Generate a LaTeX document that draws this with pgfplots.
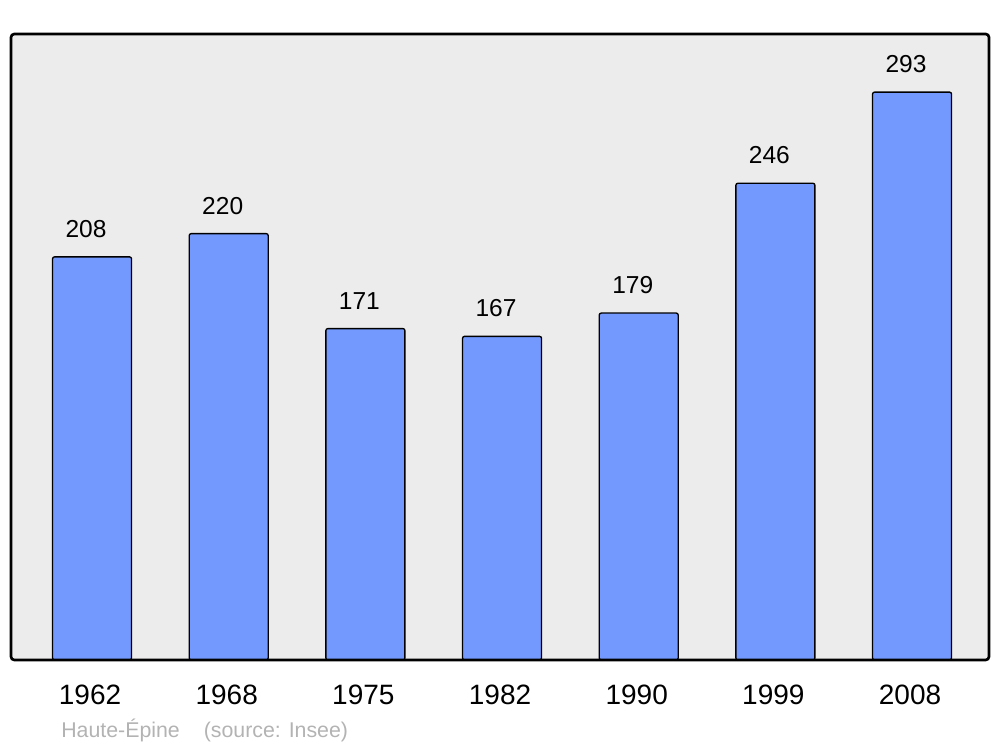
\documentclass[border=0pt]{standalone}
\usepackage{pgfplots}
\pgfplotsset{compat=1.18}
\usepackage{fontspec}
\setmainfont{Liberation Sans}
\definecolor{barblue}{HTML}{7399FF}
\definecolor{bggray}{HTML}{ECECEC}
\definecolor{footgray}{HTML}{B3B3B3}
\begin{document}
\begin{tikzpicture}[x=1pt,y=1pt]
\useasboundingbox (0,0) rectangle (750pt,560.25pt);
\begin{axis}[
  at={(8.25pt,65.25pt)}, anchor=south west,
  scale only axis, width=733.5pt, height=469.5pt,
  xmin=-0.593, xmax=6.563, ymin=0, ymax=323,
  axis line style={draw=none},
  axis background/.style={fill=bggray},
  ytick=\empty,
  xtick={0,1,2,3,4,5,6},
  xticklabels={1962,1968,1975,1982,1990,1999,2008},
  x tick label style={font=\fontsize{21}{25}\selectfont, yshift=-15pt, xshift=-1.5pt},
  major tick length=0pt,
  ybar, bar width=59.25pt,
  /pgf/number format/assume math mode=true,
  nodes near coords,
  every node near coord/.append style={font=\fontsize{18.4}{22}\selectfont, yshift=10.5pt, xshift=-4.5pt},
  clip=false,
]
\addplot[fill=barblue, draw=black, line width=1pt, rounded corners=1.5pt] coordinates {
(0,208) (1,220) (2,171) (3,167) (4,179) (5,246) (6,293)};
\draw[line width=2pt, rounded corners=2.5pt] (rel axis cs:0,0) rectangle (rel axis cs:1,1);
\end{axis}
\node[anchor=west, text=footgray, font=\fontsize{16}{19}\selectfont, inner sep=0pt] at (45.75pt,12.75pt) {Haute-Épine\hspace{18pt}(source: Insee)};
\end{tikzpicture}
\end{document}
